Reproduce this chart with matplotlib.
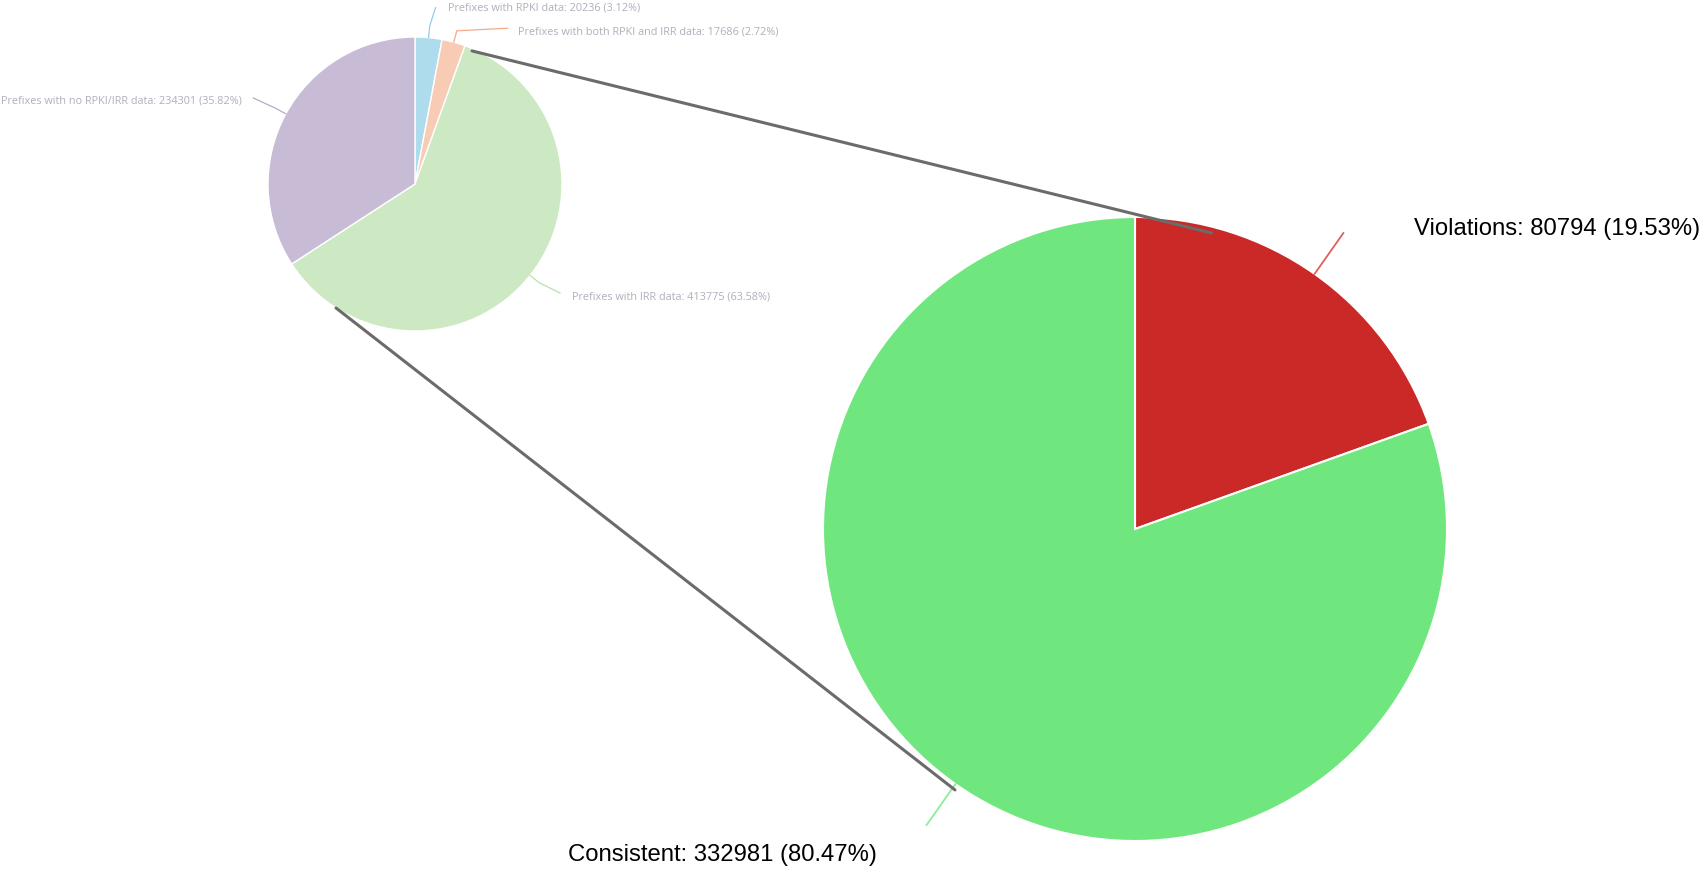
import numpy as np
import matplotlib.pyplot as plt
from matplotlib.patches import ConnectionPatch

# overview: all prefixes by data source
overview_labels = ["Prefixes with RPKI data", "Prefixes with both RPKI and IRR data",
                   "Prefixes with IRR data", "Prefixes with no RPKI/IRR data"]
overview_counts = [20236, 17686, 413775, 234301]
overview_pcts = ["3.12%", "2.72%", "63.58%", "35.82%"]
overview_colors = ["#aedcec", "#f8cbb5", "#cde9c4", "#c8bbd6"]
overview_line_colors = ["#8fd0e6", "#f5a98a", "#b9e0ad", "#b9a9cc"]

# breakdown of prefixes with IRR data
detail_labels = ["Violations", "Consistent"]
detail_counts = [80794, 332981]
detail_pcts = ["19.53%", "80.47%"]
detail_colors = ["#cb2828", "#6fe77e"]
detail_line_colors = ["#e0605c", "#8ded97"]

W, H = 1703, 869
fig = plt.figure(figsize=(W / 100, H / 100), dpi=100)


def pie_axes(cx, cy, r):
    return fig.add_axes([(cx - r) / W, (H - cy - r) / H, 2 * r / W, 2 * r / H])


def polar(frac, r=1.0):
    # position on a pie that starts at 12 o'clock and runs clockwise
    a = np.deg2rad(90 - 360 * frac)
    return r * np.cos(a), r * np.sin(a)


def mid_fracs(counts):
    c = np.cumsum(counts) / np.sum(counts)
    return c - np.asarray(counts) / np.sum(counts) / 2


ax_small = pie_axes(415, 184, 147)
ax_small.pie(overview_counts, colors=overview_colors, startangle=90,
             counterclock=False, radius=1,
             wedgeprops=dict(edgecolor="white", linewidth=1))
ax_big = pie_axes(1135, 529, 312)
ax_big.pie(detail_counts, colors=detail_colors, startangle=90,
           counterclock=False, radius=1,
           wedgeprops=dict(edgecolor="white", linewidth=1.5))
for ax in (ax_small, ax_big):
    ax.set_xlim(-1, 1)
    ax.set_ylim(-1, 1)
    ax.set_aspect("auto")
    ax.axis("off")

# small pie labels: (elbow point, text anchor, alignment)
small_txt = [((0.14, 1.20), (0.224, 1.197), "left"),
             ((0.63, 1.06), (0.70, 1.034), "left"),
             ((0.986, -0.741), (1.068, -0.769), "left"),
             ((-1.10, 0.585), (-1.177, 0.565), "right")]
for i, f in enumerate(mid_fracs(overview_counts)):
    x0, y0 = polar(f, 1.0)
    x1, y1 = polar(f, 1.08)
    (ex, ey), (tx, ty), ha = small_txt[i]
    ax_small.plot([x0, x1, ex], [y0, y1, ey], color=overview_line_colors[i],
                  lw=0.9, clip_on=False)
    ax_small.text(tx, ty, f"{overview_labels[i]}: {overview_counts[i]} ({overview_pcts[i]})",
                  ha=ha, va="center", fontsize=7.8, color="#aeb0bc",
                  family="Open Sans", clip_on=False)

# big pie labels
big_txt = [((0.895, 0.962), "left"), ((-0.827, -1.045), "right")]
for i, f in enumerate(mid_fracs(detail_counts)):
    x0, y0 = polar(f, 1.0)
    x1, y1 = polar(f, 1.16)
    (tx, ty), ha = big_txt[i]
    ax_big.plot([x0, x1], [y0, y1], color=detail_line_colors[i], lw=1.3,
                clip_on=False)
    ax_big.text(tx, ty, f"{detail_labels[i]}: {detail_counts[i]} ({detail_pcts[i]})",
                ha=ha, va="center", fontsize=17.2, color="black",
                family="Liberation Sans", clip_on=False)

# connector lines from the IRR wedge to the breakdown pie
for fa, ra, fb, rb in [(23.2 / 360, 0.985, 14.5 / 360, 0.98),
                       (212.5 / 360, 1.0, 214.6 / 360, 1.016)]:
    con = ConnectionPatch(xyA=polar(fa, ra), coordsA=ax_small.transData,
                          xyB=polar(fb, rb), coordsB=ax_big.transData,
                          color="#6b6b6b", lw=2.2)
    fig.add_artist(con)

fig.savefig("out.png", dpi=100, facecolor="white")
